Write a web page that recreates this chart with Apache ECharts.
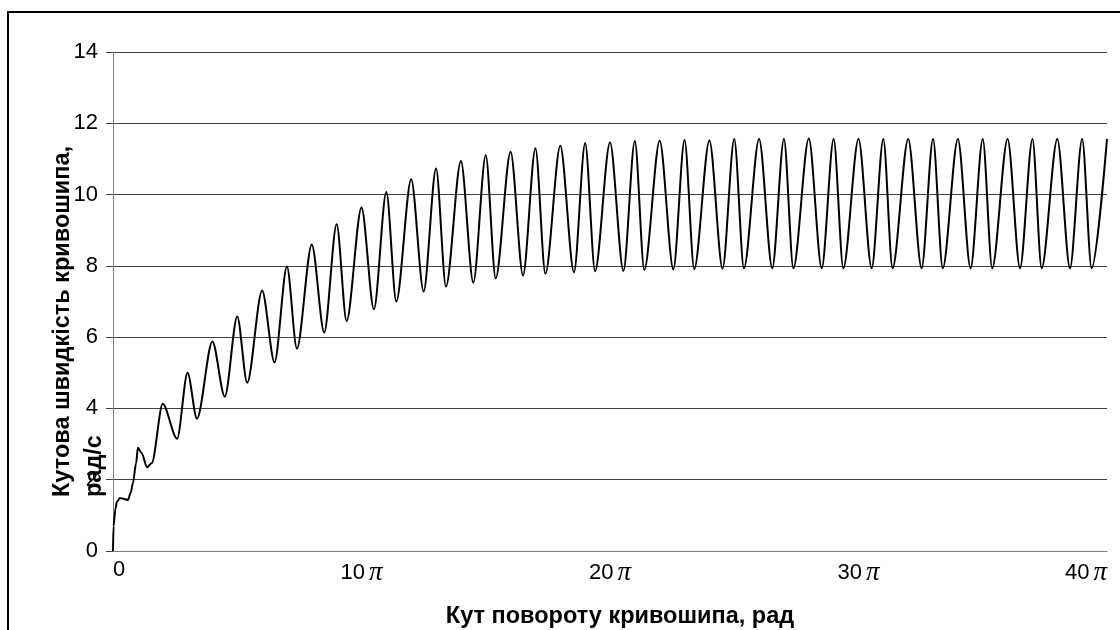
<!DOCTYPE html>
<html>
<head>
<meta charset="utf-8">
<script src="https://cdn.jsdelivr.net/npm/echarts@6/dist/echarts.min.js"></script>
<style>
html,body{margin:0;padding:0;background:#fff;}
#chart{width:1120px;height:630px;}
</style>
</head>
<body>
<div id="chart"></div>
<script>
// Angle of crank rotation, in multiples of π
const angle = [
  0, 0.02, 0.1, 0.16, 0.28, 0.45, 0.6, 0.71, 0.8, 0.93, 1.0, 1.15, 1.37, 1.56,
  2.0, 2.58, 3.0, 3.38, 4.0, 4.5, 5.0, 5.4, 6.0, 6.5, 7.0, 7.4, 8.0, 8.5,
  9.0, 9.4, 10.0, 10.5, 11.0, 11.4, 12.0, 12.5, 13.0, 13.4, 14.0, 14.5,
  15.0, 15.4, 16.0, 16.5, 17.0, 17.4, 18.0, 18.55, 19.0, 19.4, 20.0, 20.54,
  21.0, 21.38, 22.0, 22.55, 23.0, 23.39, 24.0, 24.53, 25.0, 25.39, 26.0, 26.53,
  27.0, 27.38, 28.0, 28.52, 29.0, 29.39, 30.0, 30.53, 31.0, 31.37, 32.0, 32.54,
  33.0, 33.39, 34.0, 34.51, 35.0, 35.38, 36.0, 36.5, 37.0, 37.37, 38.0, 38.51,
  39.0, 39.38, 40.0
];
// Angular velocity of the crank, rad/s
const speed = [
  0, 0.7, 1.2, 1.38, 1.49, 1.46, 1.43, 1.63, 1.9, 2.47, 2.9, 2.75, 2.35, 2.47,
  4.13, 3.15, 5.0, 3.71, 5.88, 4.33, 6.58, 4.72, 7.31, 5.29, 7.98, 5.68, 8.6, 6.13,
  9.17, 6.45, 9.64, 6.78, 10.07, 7.0, 10.43, 7.28, 10.73, 7.42, 10.94, 7.53,
  11.1, 7.65, 11.2, 7.73, 11.3, 7.78, 11.37, 7.82, 11.45, 7.85, 11.46, 7.86,
  11.5, 7.89, 11.51, 7.9, 11.53, 7.91, 11.52, 7.92, 11.56, 7.93, 11.56, 7.93,
  11.56, 7.93, 11.57, 7.93, 11.56, 7.93, 11.56, 7.93, 11.56, 7.93, 11.56, 7.93,
  11.56, 7.93, 11.56, 7.93, 11.56, 7.93, 11.56, 7.93, 11.56, 7.93, 11.56, 7.93,
  11.56, 7.93, 11.56
];
const xTickValues = [0, 10, 20, 30, 40];
const xTickNumbers = ['0', '10', '20', '30', '40'];
const yTitle = 'Кутова швидкість кривошипа,\nрад/с';
const xTitle = 'Кут повороту кривошипа, рад';

const points = angle.map((a, i) => [a, speed[i]]);

const chart = echarts.init(document.getElementById('chart'), null, {renderer: 'canvas'});
chart.setOption({
  animation: false,
  backgroundColor: '#ffffff',
  grid: {left: 113, right: 13, top: 52, bottom: 79, containLabel: false},
  xAxis: {
    type: 'value', min: 0, max: 40, interval: 10,
    axisLine: {show: true, lineStyle: {color: '#808080', width: 1}},
    axisTick: {show: false},
    splitLine: {show: false},
    axisLabel: {
      margin: 8,
      alignMinLabel: 'left',
      alignMaxLabel: 'right',
      formatter: function (v) {
        const i = xTickValues.indexOf(v);
        const n = i >= 0 ? xTickNumbers[i] : String(v);
        return v === 0 ? '{n|' + n + '}' : '{n|' + n + '}{p|π}';
      },
      rich: {
        n: {fontFamily: '"Liberation Sans", Arial, sans-serif', fontSize: 22, color: '#000'},
        p: {fontFamily: '"Liberation Serif", "Times New Roman", serif', fontStyle: 'italic', fontSize: 27, color: '#000', padding: [0, 0, 0, 4]}
      }
    }
  },
  yAxis: {
    type: 'value', min: 0, max: 14, interval: 2,
    axisLine: {show: true, lineStyle: {color: '#808080', width: 1}},
    axisTick: {show: true, length: 7, lineStyle: {color: '#404040'}},
    splitLine: {show: true, lineStyle: {color: '#404040', width: 1}},
    axisLabel: {
      margin: 15,
      fontFamily: '"Liberation Sans", Arial, sans-serif',
      fontSize: 22, color: '#000'
    }
  },
  series: [{
    type: 'line',
    data: points,
    showSymbol: false,
    smooth: 0.3,
    smoothMonotone: 'x',
    lineStyle: {color: '#000', width: 2},
    z: 5
  }],
  graphic: [
    {
      type: 'rect', silent: true, z: 100,
      shape: {x: 8, y: 12, width: 1300, height: 800},
      style: {fill: 'none', stroke: '#000', lineWidth: 2}
    },
    {
      type: 'text', silent: true, z: 100,
      x: 47, y: 497, rotation: Math.PI / 2,
      style: {
        text: yTitle,
        font: 'bold 23.5px "Liberation Sans", Arial, sans-serif',
        fill: '#000', textAlign: 'left', textVerticalAlign: 'top', lineHeight: 32
      }
    },
    {
      type: 'text', silent: true, z: 100,
      x: 620, y: 617,
      style: {
        text: xTitle,
        font: 'bold 23.5px "Liberation Sans", Arial, sans-serif',
        fill: '#000', textAlign: 'center', textVerticalAlign: 'middle'
      }
    }
  ]
});
</script>
</body>
</html>
